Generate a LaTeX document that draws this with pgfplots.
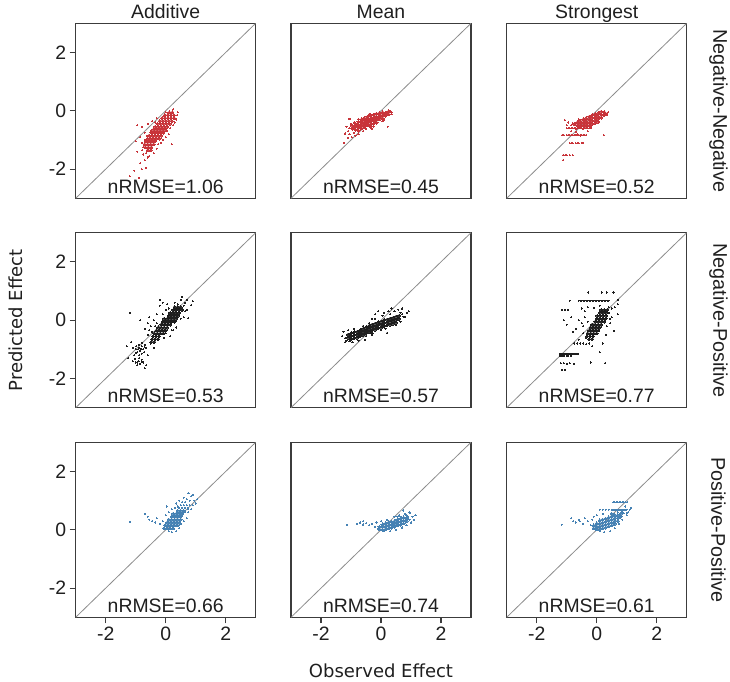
\documentclass[border=0pt]{standalone}
\usepackage{pgfplots}
\pgfplotsset{compat=1.18}
\usepackage{fontspec}
\setmainfont{Liberation Sans}
\newfontfamily\dejavu{DejaVu Sans}
\definecolor{cred}{RGB}{200,52,58}
\definecolor{cblue}{RGB}{70,130,180}
\definecolor{cblack}{RGB}{30,30,30}
\definecolor{framec}{RGB}{60,60,60}
\newcommand{\bigf}{\fontsize{19.4bp}{23bp}\selectfont}
\pgfplotsset{
 panel/.style={scale only axis, width=180bp, height=175bp, xmin=-3, xmax=3, ymin=-3, ymax=3,
   axis line style={framec, line width=1.2bp}, xtick=\empty, ytick=\empty,
   xtick pos=left, ytick pos=left, tick align=outside, major tick length=6bp,
   tick style={framec, line width=1.1bp}, tick label style={font=\bigf, text=black!88},
   anchor=south west, clip=true},
 ylab/.style={ytick={-2,0,2}, yticklabels={-2,0,2}},
 xlab/.style={xtick={-2,0,2}, xticklabels={-2,0,2}},
 core/.style={color=#1, only marks, mark=*, mark size=1.55bp, mark options={draw=#1, fill=#1, line width=0pt}},
 scat/.style={color=#1, only marks, mark=*, mark size=0.55bp, mark options={draw=#1, fill=#1, line width=0pt}},
 diag/.style={no marks, color=black!45, line width=0.8bp},
}
\newcommand{\nrmse}[1]{\node[anchor=base, font=\bigf, text=black!88] at (rel axis cs:0.5,0.0286) {nRMSE=#1};}
\begin{document}
\begin{tikzpicture}
\useasboundingbox (0,0) rectangle (730bp,682bp);
% ---------------- Row 1: Negative-Negative ----------------
\begin{axis}[panel, ylab, at={(75.7bp,483.7bp)}]
\addplot[diag] coordinates {(-3,-3) (3,3)};
\addplot[core=cred] coordinates {(0.12,-0.05)(0.22,-0.05)
(-0.03,-0.15)(0.07,-0.15)(0.17,-0.15)(0.27,-0.15)
(-0.12,-0.25)(-0.02,-0.25)(0.08,-0.25)(0.18,-0.25)(0.28,-0.25)
(-0.2,-0.35)(-0.1,-0.35)(0.0,-0.35)(0.1,-0.35)(0.2,-0.35)
(-0.27,-0.45)(-0.17,-0.45)(-0.07,-0.45)(0.03,-0.45)(0.13,-0.45)
(-0.35,-0.55)(-0.25,-0.55)(-0.15,-0.55)(-0.05,-0.55)(0.05,-0.55)
(-0.42,-0.65)(-0.32,-0.65)(-0.22,-0.65)(-0.12,-0.65)(-0.02,-0.65)
(-0.48,-0.75)(-0.38,-0.75)(-0.28,-0.75)(-0.18,-0.75)(-0.08,-0.75)
(-0.55,-0.85)(-0.45,-0.85)(-0.35,-0.85)(-0.25,-0.85)(-0.15,-0.85)
(-0.6,-0.95)(-0.5,-0.95)(-0.4,-0.95)(-0.3,-0.95)(-0.2,-0.95)
(-0.66,-1.05)(-0.56,-1.05)(-0.46,-1.05)(-0.36,-1.05)
(-0.7,-1.15)(-0.6,-1.15)(-0.5,-1.15)(-0.4,-1.15)
(-0.68,-1.25)(-0.58,-1.25)(-0.48,-1.25)
(-0.6,-1.35)(-0.5,-1.35)};
\addplot[scat=cred] coordinates {(-0.8,-0.55)(-0.95,-0.5)(-0.7,-0.75)(-0.85,-0.9)(-1.0,-1.05)(-0.75,-1.5)(-0.7,-1.7)(-0.85,-1.8)(-0.6,-1.6)(-1.05,-2.05)(-0.9,-2.3)(-0.8,-2.0)(-0.65,-1.95)(0.2,-1.15)(0.35,-0.3)(0.38,-0.15)(0.4,-0.05)(0.25,0.05)(-0.45,-0.35)(-0.6,-0.45)(-0.3,-0.25)(0.15,-0.6)(0.1,-0.8)(-0.15,-1.1)(-0.3,-1.3)(-0.55,-1.55)(-1.2,-2.25)(-0.95,-1.4)(-0.7,-1.0)(-0.62,-0.85)(-0.75,-1.25)(-0.4,-1.45)(-0.8,-1.1)(-0.78,-1.35)(-0.65,-1.45)(-0.5,-0.7)(0.05,-0.7)(0.0,-0.9)(-0.1,-1.0)(-0.25,-1.15)(0.3,-0.4)(0.25,-0.5)(-0.35,-0.4)(0.0,-0.05)(-0.1,-0.2)};
\nrmse{1.06}
\end{axis}
\begin{axis}[panel, at={(291bp,483.7bp)}]
\addplot[diag] coordinates {(-3,-3) (3,3)};
\addplot[core=cred] coordinates {(0.25,-0.02)(0.25,-0.12)
(0.15,-0.07)(0.15,-0.17)
(0.05,-0.05)(0.05,-0.15)(0.05,-0.25)
(-0.05,-0.08)(-0.05,-0.18)(-0.05,-0.28)
(-0.15,-0.1)(-0.15,-0.2)(-0.15,-0.3)(-0.15,-0.4)
(-0.25,-0.14)(-0.25,-0.24)(-0.25,-0.34)(-0.25,-0.44)
(-0.35,-0.16)(-0.35,-0.26)(-0.35,-0.36)(-0.35,-0.46)(-0.35,-0.54)
(-0.45,-0.2)(-0.45,-0.3)(-0.45,-0.4)(-0.45,-0.5)
(-0.55,-0.25)(-0.55,-0.35)(-0.55,-0.45)(-0.55,-0.55)
(-0.65,-0.3)(-0.65,-0.4)(-0.65,-0.5)(-0.65,-0.6)
(-0.75,-0.38)(-0.75,-0.48)(-0.75,-0.58)(-0.75,-0.68)
(-0.85,-0.45)(-0.85,-0.55)(-0.85,-0.65)
(-0.95,-0.52)(-0.95,-0.62)
(0.2,-0.1)(0.1,-0.12)(0.0,-0.2)(-0.1,-0.25)(-0.2,-0.3)(-0.3,-0.3)(-0.4,-0.35)(-0.5,-0.4)(-0.6,-0.45)(-0.7,-0.52)(-0.8,-0.5)(-0.9,-0.58)};
\addplot[scat=cred] coordinates {(-1.05,-0.28)(-1.0,-0.45)(-1.1,-0.7)(-1.2,-0.78)(-1.1,-0.92)(-0.98,-0.9)(-1.22,-1.1)(-0.85,-0.85)(-0.75,-0.8)(-0.6,-0.7)(0.22,-0.55)(0.35,-0.12)(0.3,0.0)(-0.4,-0.12)(-0.6,-0.25)(-0.75,-0.3)(-0.9,-0.4)(0.05,-0.35)(-0.25,-0.55)(-1.15,-0.55)(-0.3,-0.62)(0.1,-0.3)(-1.05,-0.8)(-0.9,-0.75)(0.35,-0.05)(-1.05,-0.6)(-0.5,-0.62)};
\nrmse{0.45}
\end{axis}
\begin{axis}[panel, at={(506.7bp,483.7bp)}]
\addplot[diag] coordinates {(-3,-3) (3,3)};
\addplot[core=cred] coordinates {(0.25,-0.05)(0.25,-0.15)
(0.15,-0.03)(0.15,-0.13)(0.15,-0.23)
(0.05,-0.08)(0.05,-0.18)(0.05,-0.28)(0.05,-0.38)
(-0.05,-0.12)(-0.05,-0.22)(-0.05,-0.32)(-0.05,-0.42)
(-0.15,-0.15)(-0.15,-0.25)(-0.15,-0.35)(-0.15,-0.45)
(-0.25,-0.2)(-0.25,-0.3)(-0.25,-0.4)(-0.25,-0.5)
(-0.35,-0.25)(-0.35,-0.35)(-0.35,-0.45)(-0.35,-0.55)
(-0.45,-0.3)(-0.45,-0.4)(-0.45,-0.5)
(-0.55,-0.35)(-0.55,-0.45)(-0.55,-0.55)
(-0.65,-0.4)(-0.65,-0.5)
(-0.75,-0.45)(0.3,-0.1)};
\addplot[scat=cred] coordinates {(-1.0,-0.6)(-0.95,-0.6)(-0.9,-0.6)(-0.85,-0.6)(-0.8,-0.6)(-0.75,-0.6)(-0.7,-0.6)(-0.65,-0.6)(-0.6,-0.6)(-0.55,-0.6)(-0.5,-0.6)(-0.45,-0.6)(-0.4,-0.6)(-0.35,-0.6)(-0.3,-0.6)(-0.25,-0.6)(-0.2,-0.6)(-0.55,-0.58)(-0.45,-0.62)(-0.7,-0.63)
(-1.15,-0.83)(-1.1,-0.83)(-1.0,-0.83)(-0.95,-0.83)(-0.9,-0.83)(-0.85,-0.83)(-0.8,-0.83)(-0.75,-0.83)(-0.7,-0.83)(-0.65,-0.83)(-0.6,-0.83)(-0.55,-0.83)(-0.5,-0.83)(-0.45,-0.83)(-0.4,-0.83)(-0.35,-0.83)(-0.65,-0.81)(-0.55,-0.85)
(-0.9,-1.11)(-0.85,-1.11)(-0.8,-1.11)(-0.7,-1.11)(-0.65,-1.11)(-0.6,-1.11)(-0.5,-1.11)(-0.45,-1.1)
(-1.12,-1.52)(-1.05,-1.52)(-1.0,-1.52)(-0.9,-1.52)(-0.8,-1.52)(-1.12,-1.69)
(0.24,-0.83)(-1.0,-0.49)(-1.06,-0.32)(-0.95,-0.4)(-0.85,-0.7)(-0.7,-0.72)(-0.3,-0.7)(-0.2,-0.55)(0.35,-0.15)(-0.85,-0.5)(0.38,-0.05)(-0.8,-0.42)(-0.6,-0.3)};
\nrmse{0.52}
\end{axis}
% ---------------- Row 2: Negative-Positive ----------------
\begin{axis}[panel, ylab, at={(75.7bp,274.3bp)}]
\addplot[diag] coordinates {(-3,-3) (3,3)};
\addplot[core=cblack] coordinates {(0.3,0.45)(0.4,0.45)(0.5,0.45)
(0.25,0.35)(0.35,0.35)(0.45,0.35)(0.55,0.35)
(0.15,0.25)(0.25,0.25)(0.35,0.25)(0.45,0.25)
(0.1,0.15)(0.2,0.15)(0.3,0.15)(0.4,0.15)
(-0.05,0.05)(0.05,0.05)(0.15,0.05)(0.25,0.05)(0.35,0.05)
(-0.1,-0.05)(0.0,-0.05)(0.1,-0.05)(0.2,-0.05)(0.3,-0.05)
(-0.15,-0.15)(-0.05,-0.15)(0.05,-0.15)(0.15,-0.15)
(-0.25,-0.25)(-0.15,-0.25)(-0.05,-0.25)(0.05,-0.25)
(-0.3,-0.35)(-0.2,-0.35)(-0.1,-0.35)(0.0,-0.35)
(-0.38,-0.45)(-0.28,-0.45)(-0.18,-0.45)(-0.08,-0.45)
(-0.42,-0.55)(-0.32,-0.55)(-0.22,-0.55)
(-0.45,-0.65)(-0.35,-0.65)(-0.25,-0.65)
(-0.48,-0.75)(-0.38,-0.75)};
\addplot[scat=cblack] coordinates {(-0.7,-0.85)(-0.8,-0.9)(-0.9,-0.95)(-1.0,-1.0)(-0.75,-1.0)(-0.85,-1.05)(-0.95,-1.1)(-1.1,-0.95)(-0.65,-0.95)(-0.8,-1.15)(-1.05,-1.2)(-0.9,-0.85)(-0.8,-1.35)(-0.9,-1.4)(-1.0,-1.45)(-0.85,-1.5)(-1.1,-1.4)(-0.75,-1.45)(-0.95,-1.55)(-1.2,0.25)(-0.85,0.0)(-0.6,-0.1)(-0.7,-0.3)(-0.5,-0.2)(-0.55,0.1)(-0.4,0.0)(-0.3,0.2)(-0.2,0.5)(-0.1,0.6)(-0.2,0.7)(0.05,0.55)(0.5,0.7)(0.55,0.8)(0.85,0.52)(0.7,0.35)(0.75,0.07)(0.6,0.1)(0.5,0.05)(0.35,-0.25)(0.15,-0.55)(0.2,-0.35)(-0.05,-0.6)(-0.6,-0.5)(-0.5,-0.8)(-0.4,-0.95)(-0.65,-1.55)(-0.6,-1.2)(-1.25,-1.3)(-1.3,-0.9)(-1.15,-0.75)(-0.45,-0.4)(0.0,0.35)(0.3,0.6)(0.65,0.6)(0.9,0.65)(-0.7,-1.65)(0.25,-0.35)(-0.98,-0.9)(-0.72,-1.1)(-0.88,-1.2)(-1.02,-1.32)(-0.78,-0.78)(-0.92,-1.0)(-0.82,-0.98)(-0.7,-0.92)(-1.0,-1.12)(-0.88,-1.3)(-0.95,-1.45)(-0.8,-1.42)(0.6,0.5)(0.65,0.3)(0.1,0.4)(-0.1,0.2)(-0.3,-0.1)(-0.55,-0.35)(-0.35,-0.2)(0.4,0.55)(0.7,0.7)(0.0,-0.45)};
\nrmse{0.53}
\end{axis}
\begin{axis}[panel, at={(291bp,274.3bp)}]
\addplot[diag] coordinates {(-3,-3) (3,3)};
\addplot[core=cblack] coordinates {(0.6,0.15)(0.6,0.05)
(0.5,0.12)(0.5,0.02)(0.5,-0.08)
(0.4,0.08)(0.4,-0.02)(0.4,-0.12)
(0.3,0.05)(0.3,-0.05)(0.3,-0.15)
(0.2,0.02)(0.2,-0.08)(0.2,-0.18)
(0.1,0.0)(0.1,-0.1)(0.1,-0.2)
(0.0,-0.05)(0.0,-0.15)(0.0,-0.25)
(-0.1,-0.08)(-0.1,-0.18)(-0.1,-0.28)
(-0.2,-0.12)(-0.2,-0.22)(-0.2,-0.32)
(-0.3,-0.15)(-0.3,-0.25)(-0.3,-0.35)(-0.3,-0.45)
(-0.4,-0.2)(-0.4,-0.3)(-0.4,-0.4)
(-0.5,-0.25)(-0.5,-0.35)(-0.5,-0.45)
(-0.6,-0.3)(-0.6,-0.4)(-0.6,-0.5)
(-0.7,-0.35)(-0.7,-0.45)(-0.7,-0.55)
(-0.8,-0.4)(-0.8,-0.5)(-0.8,-0.6)
(-0.9,-0.42)(-0.9,-0.52)(-0.9,-0.62)
(-1.0,-0.45)(-1.0,-0.55)(-1.0,-0.65)
(-1.1,-0.5)(-1.1,-0.6)};
\addplot[scat=cblack] coordinates {(-1.25,-0.4)(-1.2,-0.75)(-1.1,-0.35)(-0.9,-0.3)(-0.95,-0.75)(-0.6,-0.2)(-0.4,-0.1)(-0.3,0.05)(-0.1,0.3)(0.1,0.25)(0.25,0.3)(0.45,0.3)(0.58,0.36)(0.7,0.2)(0.86,0.25)(0.8,0.1)(0.65,-0.05)(0.5,-0.15)(0.2,-0.44)(0.0,-0.35)(-0.3,-0.5)(-0.53,-0.67)(-0.75,-0.7)(-1.3,-0.55)(0.35,0.4)(-0.2,0.2)(0.92,0.3)(0.7,0.4)(-0.2,0.05)(0.05,0.15)(0.3,0.2)(0.15,-0.3)(-1.15,-0.7)(-1.2,-0.62)(-1.05,-0.72)(0.75,0.12)(0.65,0.25)(-0.5,-0.55)};
\nrmse{0.57}
\end{axis}
\begin{axis}[panel, at={(506.7bp,274.3bp)}]
\addplot[diag] coordinates {(-3,-3) (3,3)};
\addplot[core=cblack] coordinates {(0.15,0.35)(0.25,0.35)(0.35,0.35)
(0.1,0.25)(0.2,0.25)(0.3,0.25)
(0.02,0.15)(0.12,0.15)(0.22,0.15)(0.32,0.15)
(0.0,0.05)(0.1,0.05)(0.2,0.05)(0.3,0.05)
(-0.05,-0.05)(0.05,-0.05)(0.15,-0.05)(0.25,-0.05)
(-0.15,-0.15)(-0.05,-0.15)(0.05,-0.15)(0.15,-0.15)
(-0.2,-0.25)(-0.1,-0.25)(0.0,-0.25)(0.1,-0.25)
(-0.25,-0.35)(-0.15,-0.35)(-0.05,-0.35)(0.05,-0.35)
(-0.3,-0.45)(-0.2,-0.45)(-0.1,-0.45)(0.0,-0.45)
(-0.32,-0.55)(-0.22,-0.55)(-0.12,-0.55)
(-0.25,-0.65)(-0.15,-0.65)};
\addplot[scat=cblack] coordinates {(-0.6,0.67)(-0.55,0.67)(-0.5,0.67)(-0.45,0.67)(-0.4,0.67)(-0.35,0.67)(-0.3,0.67)(-0.25,0.67)(-0.2,0.67)(-0.15,0.67)(-0.1,0.67)(-0.05,0.67)(0.0,0.67)(0.05,0.67)(0.1,0.67)(0.15,0.67)(0.2,0.67)(0.25,0.67)(0.3,0.67)(0.35,0.67)(0.4,0.67)(-0.9,0.67)(0.72,0.7)
(-0.28,0.95)(0.17,0.95)(0.33,0.95)(0.56,0.95)
(-0.5,0.4)(-0.3,0.45)(0.4,0.45)(0.5,0.4)(0.6,0.45)(-0.1,0.42)(-1.15,0.36)(-1.05,0.36)(-0.95,0.36)
(-1.22,-1.15)(-1.15,-1.15)(-1.1,-1.15)(-1.05,-1.15)(-1.0,-1.15)(-0.95,-1.15)(-0.9,-1.15)(-0.85,-1.15)(-0.8,-1.15)(-0.75,-1.15)(-0.7,-1.15)(-0.65,-1.15)(-0.62,-1.15)
(-1.22,-1.22)(-1.15,-1.22)(-1.1,-1.22)(-1.0,-1.22)(-0.95,-1.22)(-0.85,-1.22)
(-1.2,-1.47)(-1.1,-1.47)(-1.0,-1.5)(-0.9,-1.47)(-0.75,-1.5)(0.28,-1.47)(-0.2,-1.45)(-1.15,-1.7)(-1.05,-1.7)
(-0.75,-0.8)(-0.65,-0.8)(-0.55,-0.8)(-0.45,-0.8)(-0.35,-0.82)(-0.25,-0.8)
(-1.1,0.0)(-1.0,-0.15)(-0.85,0.1)(-0.7,-0.3)(-0.6,0.0)(-0.5,-0.1)(-0.4,0.1)(-0.3,-0.05)(0.33,-0.21)(0.45,-0.1)(0.58,-0.37)(0.5,0.1)(0.7,0.2)(-0.15,-0.9)(-0.6,-0.67)(0.2,-0.8)(0.1,-1.1)(-0.45,-0.45)(-0.8,-0.4)(0.7,0.55)(0.4,0.25)(0.45,0.05)(-0.35,-0.6)(-0.45,-0.2)(0.3,-0.5)(-0.4,0.3)(0.1,0.5)};
\nrmse{0.77}
\end{axis}
% ---------------- Row 3: Positive-Positive ----------------
\begin{axis}[panel, ylab, xlab, at={(75.7bp,64.7bp)}]
\addplot[diag] coordinates {(-3,-3) (3,3)};
\addplot[core=cblue] coordinates {(-0.05,0.05)(0.05,0.05)(0.15,0.05)(0.25,0.05)
(0.0,0.15)(0.1,0.15)(0.2,0.15)(0.3,0.15)(0.4,0.15)
(0.05,0.25)(0.15,0.25)(0.25,0.25)(0.35,0.25)(0.45,0.25)
(0.1,0.35)(0.2,0.35)(0.3,0.35)(0.4,0.35)(0.5,0.35)
(0.2,0.45)(0.3,0.45)(0.4,0.45)(0.5,0.45)
(0.25,0.55)(0.35,0.55)(0.45,0.55)(0.55,0.55)
(0.4,0.65)(0.5,0.65)(0.6,0.65)};
\addplot[scat=cblue] coordinates {(-1.2,0.27)(-0.7,0.55)(-0.6,0.45)(-0.55,0.35)(-0.45,0.3)(-0.35,0.25)(-0.3,0.4)(-0.2,0.2)(-0.1,0.3)(-0.05,0.15)(0.0,0.5)(0.03,0.8)(0.1,0.6)(0.2,0.7)(0.35,0.9)(0.45,1.0)(0.6,1.1)(0.76,1.26)(0.85,1.15)(0.92,1.2)(0.95,1.0)(1.0,0.9)(0.85,0.7)(0.75,0.6)(0.7,0.4)(0.6,0.3)(0.5,0.2)(0.45,0.05)(0.35,-0.05)(0.2,-0.08)(0.1,-0.05)(0.8,1.0)(0.65,0.95)(0.3,0.75)(1.05,1.05)
(0.45,0.75)(0.55,0.75)(0.65,0.75)(0.75,0.75)(0.5,0.85)(0.6,0.85)(0.7,0.85)(0.8,0.85)(0.55,0.95)(0.7,1.05)(0.65,0.6)(0.75,0.7)(0.9,0.85)(0.4,0.8)};
\nrmse{0.66}
\end{axis}
\begin{axis}[panel, xlab, at={(291bp,64.7bp)}]
\addplot[diag] coordinates {(-3,-3) (3,3)};
\addplot[core=cblue] coordinates {(-0.05,0.02)(-0.05,0.1)
(0.05,0.0)(0.05,0.1)(0.05,0.18)
(0.15,0.02)(0.15,0.12)(0.15,0.22)
(0.25,0.05)(0.25,0.15)(0.25,0.25)
(0.35,0.08)(0.35,0.18)(0.35,0.28)
(0.45,0.1)(0.45,0.2)(0.45,0.3)
(0.55,0.15)(0.55,0.25)(0.55,0.35)
(0.65,0.18)(0.65,0.28)(0.65,0.38)
(0.75,0.22)(0.75,0.32)(0.75,0.42)
(0.85,0.3)(0.85,0.4)};
\addplot[scat=cblue] coordinates {(-1.14,0.17)(-0.8,0.2)(-0.7,0.25)(-0.59,0.29)(-0.5,0.22)(-0.4,0.15)(-0.3,0.2)(-0.2,0.1)(-0.15,0.25)(-0.1,0.05)(0.0,0.3)(0.2,0.35)(0.45,0.45)(0.6,0.5)(0.74,0.66)(0.8,0.55)(0.97,0.57)(1.05,0.45)(1.15,0.5)(1.1,0.35)(1.0,0.25)(0.85,0.15)(0.7,0.08)(0.5,0.0)(0.3,-0.05)(0.1,-0.05)(0.95,0.6)(-0.6,0.18)(0.9,0.45)(0.95,0.35)(0.65,0.45)(0.55,0.45)(0.85,0.5)};
\nrmse{0.74}
\end{axis}
\begin{axis}[panel, xlab, at={(506.7bp,64.7bp)}]
\addplot[diag] coordinates {(-3,-3) (3,3)};
\addplot[core=cblue] coordinates {(-0.1,0.05)(-0.1,0.15)
(0.0,0.02)(0.0,0.12)(0.0,0.22)
(0.1,0.02)(0.1,0.12)(0.1,0.22)(0.1,0.32)
(0.2,0.05)(0.2,0.15)(0.2,0.25)(0.2,0.35)
(0.3,0.08)(0.3,0.18)(0.3,0.28)(0.3,0.38)
(0.4,0.12)(0.4,0.22)(0.4,0.32)(0.4,0.42)
(0.5,0.15)(0.5,0.25)(0.5,0.35)(0.5,0.45)(0.5,0.55)
(0.6,0.2)(0.6,0.3)(0.6,0.4)(0.6,0.5)
(0.7,0.3)(0.7,0.4)(0.7,0.5)
(0.8,0.45)(0.8,0.55)};
\addplot[scat=cblue] coordinates {(0.1,0.69)(0.2,0.69)(0.3,0.69)(0.4,0.69)(0.5,0.69)(0.55,0.69)(0.6,0.69)(0.65,0.69)(0.7,0.69)(0.75,0.69)(0.8,0.69)(0.85,0.69)(0.9,0.69)(0.95,0.69)(1.0,0.69)(1.1,0.69)
(0.55,0.94)(0.6,0.94)(0.65,0.94)(0.7,0.94)(0.75,0.94)(0.8,0.94)(0.85,0.94)(0.9,0.94)(0.95,0.94)(1.02,0.94)
(-1.17,0.17)(-0.85,0.4)(-0.78,0.3)(-0.7,0.25)(-0.6,0.35)(-0.56,0.29)(-0.45,0.2)(-0.4,0.4)(-0.3,0.3)(-0.2,0.15)(-0.15,0.35)(-0.1,0.45)(0.0,0.5)(0.2,0.55)(1.0,0.5)(1.05,0.6)(0.95,0.8)(0.85,0.35)(0.75,0.2)(0.6,0.05)(0.45,-0.05)(0.25,-0.08)(0.1,-0.05)(1.15,0.75)(0.9,0.57)(1.0,0.57)(0.7,0.6)(0.85,0.62)};
\nrmse{0.61}
\end{axis}
% ---------------- titles and labels ----------------
\node[font=\bigf, anchor=base, text=black!88] at (165.7bp,663.7bp) {Additive};
\node[font=\bigf, anchor=base, text=black!88] at (381bp,663.7bp) {Mean};
\node[font=\bigf, anchor=base, text=black!88] at (596.7bp,663.7bp) {Strongest};
\node[font=\fontsize{19.8bp}{23bp}\selectfont, rotate=-90, text=black!88] at (718.5bp,571.2bp) {Negative-Negative};
\node[font=\fontsize{19.8bp}{23bp}\selectfont, rotate=-90, text=black!88] at (718.5bp,361.5bp) {Negative-Positive};
\node[font=\fontsize{19.8bp}{23bp}\selectfont, rotate=-90, text=black!88] at (718.5bp,152bp) {Positive-Positive};
\node[font=\dejavu\fontsize{18bp}{21bp}\selectfont, rotate=90, text=black!88] at (16bp,361.5bp) {Predicted Effect};
\node[font=\dejavu\fontsize{18bp}{21bp}\selectfont, anchor=base, text=black!88] at (381bp,5bp) {Observed Effect};
\end{tikzpicture}
\end{document}
